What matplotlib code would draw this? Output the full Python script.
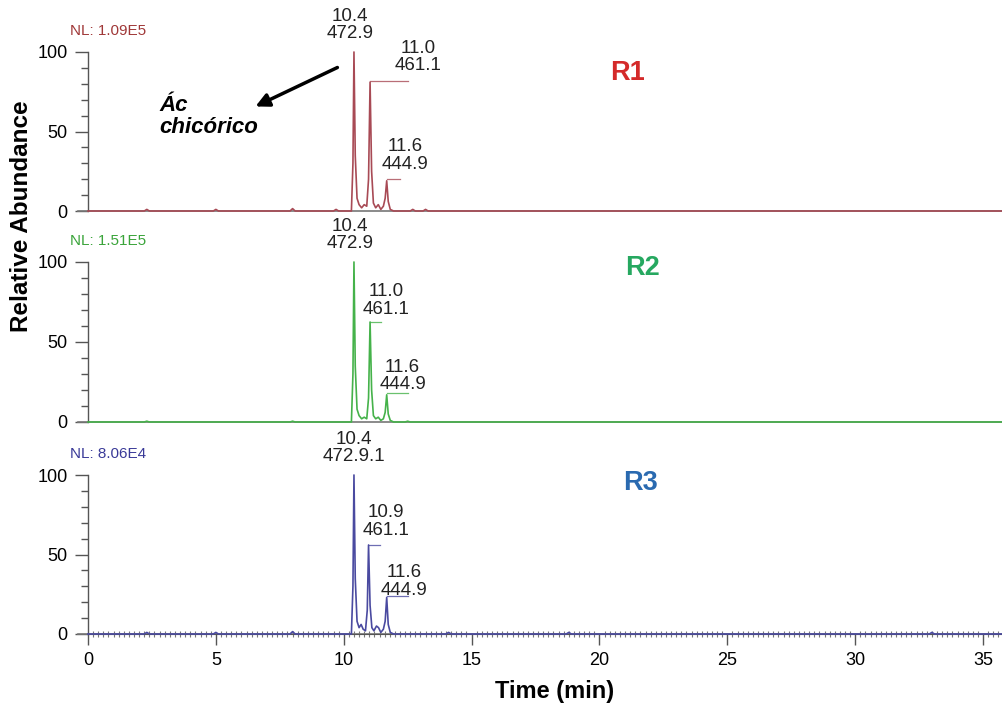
from matplotlib import pyplot as plt
from matplotlib.ticker import MultipleLocator
import numpy as np

# chromatogram traces (time in min, relative abundance)
r1_time = [0, 2.2, 2.3, 2.4, 4.9, 5.0, 5.1, 7.9, 8.0, 8.1, 9.6, 9.7, 9.8,
           10.30, 10.36, 10.40, 10.45, 10.52, 10.60, 10.70, 10.80, 10.90, 10.97,
           11.03, 11.09, 11.16, 11.25, 11.35, 11.45, 11.55, 11.62, 11.68, 11.74,
           11.82, 11.95, 12.6, 12.7, 12.8, 13.1, 13.2, 13.3, 35.8]
r1_abund = [0, 0, 1, 0, 0, 1, 0, 0, 1.5, 0, 0, 1, 0,
            0, 30, 100, 35, 8, 4, 2, 4, 3, 20,
            81, 25, 5, 2, 4, 1, 3, 8, 19, 6,
            1, 0, 0, 1, 0, 0, 1, 0, 0]

r2_time = [0, 2.2, 2.3, 2.4, 7.9, 8.0, 8.1, 10.30, 10.36, 10.40, 10.45, 10.52,
           10.60, 10.70, 10.80, 10.90, 10.97, 11.03, 11.09, 11.16, 11.25, 11.35,
           11.45, 11.55, 11.62, 11.68, 11.74, 11.82, 11.95, 12.4, 12.5, 12.6, 35.8]
r2_abund = [0, 0, 0.5, 0, 0, 0.5, 0, 0, 30, 100, 35, 8,
            4, 2, 3, 2, 15, 62.5, 20, 4, 2, 3,
            1, 2, 6, 17, 5, 1, 0, 0, 0.5, 0, 0]

r3_time = [0, 2.2, 2.3, 2.4, 4.9, 5.0, 5.1, 7.9, 8.0, 8.1, 10.30, 10.36, 10.40,
           10.45, 10.52, 10.60, 10.68, 10.76, 10.85, 10.92, 10.97, 11.03, 11.10,
           11.18, 11.28, 11.36, 11.45, 11.55, 11.62, 11.68, 11.74, 11.82, 11.95,
           14.0, 14.1, 14.2, 18.7, 18.8, 18.9, 32.9, 33.0, 33.1, 35.8]
r3_abund = [0, 0, 1, 0, 0, 1, 0, 0, 1.5, 0, 0, 30, 100,
            35, 8, 4, 6, 3, 2, 15, 56, 18, 4,
            2, 5, 4, 1, 3, 8, 23, 6, 1, 0,
            0, 1, 0, 0, 1, 0, 0, 1, 0, 0]

# peak annotations: (retention time, m/z)
r1_peaks = [("10.4", "472.9"), ("11.0", "461.1"), ("11.6", "444.9")]
r2_peaks = [("10.4", "472.9"), ("11.0", "461.1"), ("11.6", "444.9")]
r3_peaks = [("10.4", "472.9.1"), ("10.9", "461.1"), ("11.6", "444.9")]

nl_values = ["NL: 1.09E5", "NL: 1.51E5", "NL: 8.06E4"]
run_names = ["R1", "R2", "R3"]

plt.rcParams['font.family'] = ['Liberation Sans', 'DejaVu Sans']

trace_colors = ["#a84a55", "#45b24a", "#4a4aa0"]
nl_colors = ["#a03838", "#3aa43a", "#3a3a98"]
name_colors = ["#d42a2a", "#26a860", "#2a6ab0"]

# label placement (x, bottom y) and connector line (x0, x1, y) per peak
label_pos = [
    [(10.25, 106), (12.9, 86), (12.4, 24)],
    [(10.25, 106), (11.65, 65), (12.3, 18)],
    [(10.4, 106), (11.65, 60), (12.35, 22)],
]
label_lines = [
    [None, (11.03, 12.5, 82), (11.68, 12.2, 20)],
    [None, (11.03, 11.45, 62.5), (11.68, 12.5, 18)],
    [None, (10.97, 11.4, 56), (11.68, 12.5, 24)],
]
name_pos = [(21.1, 87), (21.7, 96), (21.6, 95)]

fig = plt.figure(figsize=(10.02, 7.06), dpi=100)
xmax = 35.74
rects = [(88, 211, 52), (88, 422, 262), (88, 634, 475)]
traces = [(r1_time, r1_abund), (r2_time, r2_abund), (r3_time, r3_abund)]
peaks = [r1_peaks, r2_peaks, r3_peaks]

for i, (left, y0, y100) in enumerate(rects):
    ax = fig.add_axes([left / 1002, (706 - y0) / 706, 1 - left / 1002, (y0 - y100) / 706])
    ax.set_xlim(0, xmax)
    ax.set_ylim(0, 100)
    t, a = traces[i]
    ax.plot(t, a, color=trace_colors[i], lw=1.2, clip_on=False, zorder=3)
    ax.plot([-0.4, xmax], [0, 0], color="#777777", lw=1.2, clip_on=False, zorder=2)
    for s in ["top", "right"]:
        ax.spines[s].set_visible(False)
    ax.spines["bottom"].set_visible(False)
    ax.spines["left"].set_color("#555555")
    ax.spines["left"].set_linewidth(1.0)
    ax.set_yticks([0, 50, 100])
    ax.yaxis.set_minor_locator(MultipleLocator(10))
    ax.tick_params(axis="y", which="major", length=9.5, width=1, color="#555555",
                   labelsize=13, pad=5)
    ax.tick_params(axis="y", which="minor", length=5, width=1, color="#555555")
    if i < 2:
        ax.set_xticks([])
    else:
        ax.spines["bottom"].set_visible(True)
        ax.spines["bottom"].set_color("#555555")
        ax.set_xticks(range(0, 36, 5))
        ax.xaxis.set_minor_locator(MultipleLocator(0.2))
        ax.tick_params(axis="x", which="major", length=8, width=1, color="#555555",
                       labelsize=13, pad=5)
        ax.tick_params(axis="x", which="minor", length=5, width=0.8, color="#777777",
                       direction="inout")
        ax.set_xlabel("Time (min)", fontsize=17, fontweight="bold")
        ax.xaxis.set_label_coords(0.511, -0.29)
    # peak labels
    for j, (rt, mz) in enumerate(peaks[i]):
        lx, ly = label_pos[i][j]
        ax.text(lx, ly, rt + "\n" + mz, ha="center", va="bottom", fontsize=13.5,
                color="#222222", linespacing=1.05, clip_on=False)
        ln = label_lines[i][j]
        if ln is not None:
            ax.plot([ln[0], ln[1]], [ln[2], ln[2]], color=trace_colors[i], lw=0.9,
                    alpha=0.8, clip_on=False)
    ax.text(-0.7, 109, nl_values[i], fontsize=11, color=nl_colors[i],
            ha="left", va="bottom", clip_on=False)
    nx, ny = name_pos[i]
    ax.text(nx, ny, run_names[i], fontsize=19.5, fontweight="bold",
            color=name_colors[i], ha="center", va="center")
    if i == 0:
        ax.annotate("", xy=(6.45, 65), xytext=(9.85, 91),
                    arrowprops=dict(arrowstyle="-|>", color="black", lw=2.5,
                                    mutation_scale=20))
        ax.text(2.8, 46, "Ác\nchicórico", fontsize=16, fontweight="bold",
                fontstyle="italic", ha="left", va="bottom", linespacing=1.05)

fig.text(0.021, 0.694, "Relative Abundance", rotation=90, fontsize=17.5,
         fontweight="bold", ha="center", va="center")

fig.savefig("out.png", dpi=100)
